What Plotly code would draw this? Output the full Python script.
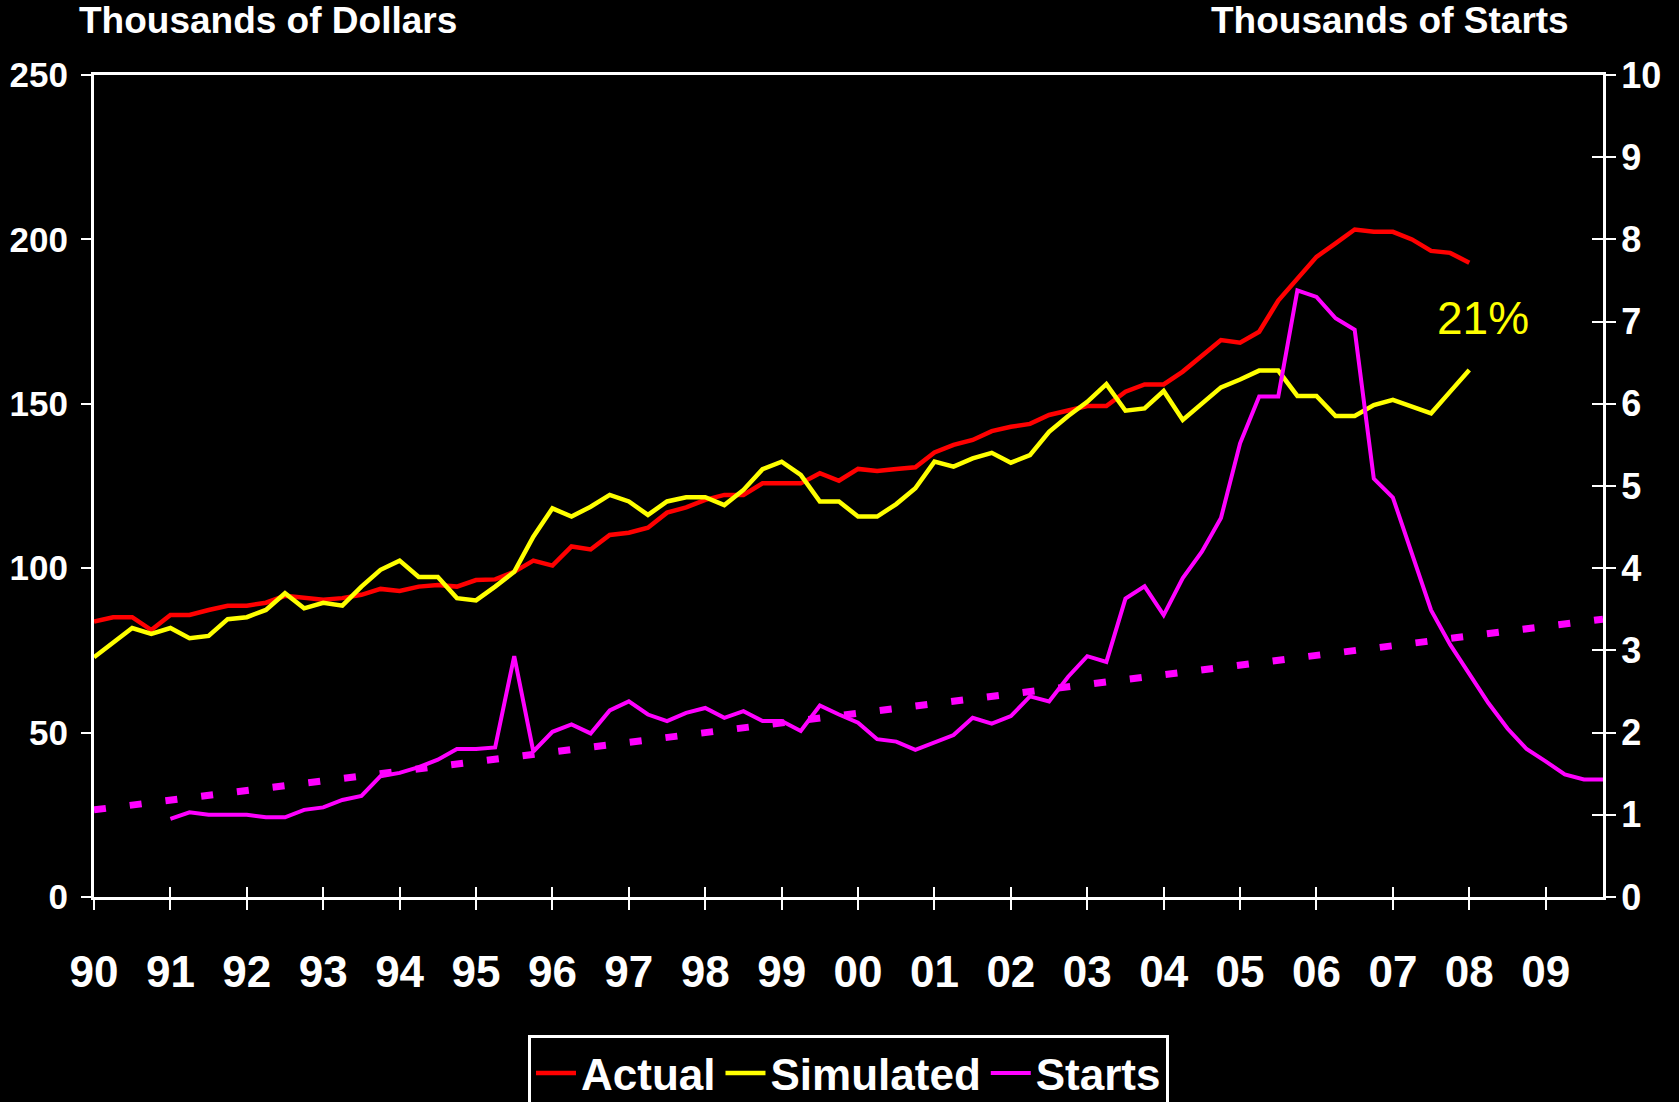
import plotly.graph_objects as go

# ---------------- data ----------------
years = list(range(1990, 2010))
year_labels = ["90", "91", "92", "93", "94", "95", "96", "97", "98", "99",
               "00", "01", "02", "03", "04", "05", "06", "07", "08", "09"]
quarters = [f"{y}Q{q}" for y in years for q in range(1, 5)]

# Thousands of dollars (left axis), 1990Q1 .. 2008Q1
actual = [83.8, 85.1, 85.1, 81.2,
          85.8, 85.8, 87.3, 88.6,
          88.6, 89.5, 91.6, 90.9,
          90.4, 90.9, 91.9, 93.7,
          93.1, 94.4, 94.9, 94.4,
          96.4, 96.6, 98.9, 102.3,
          100.8, 106.6, 105.7, 110.1,
          110.8, 112.3, 116.9, 118.5,
          120.8, 122.3, 122.3, 125.8,
          125.8, 125.8, 128.9, 126.6,
          130.2, 129.6, 130.2, 130.7,
          135.2, 137.5, 139.0, 141.7,
          143.0, 143.9, 146.6, 148.1,
          149.3, 149.3, 153.7, 155.9,
          155.9, 159.8, 164.5, 169.4,
          168.6, 171.9, 181.4, 188.1,
          194.7, 198.8, 203.0, 202.3,
          202.3, 200.0, 196.5, 195.9,
          192.9]

simulated = [72.9, 77.4, 81.8, 80.0,
             81.8, 78.7, 79.4, 84.5,
             85.1, 87.3, 92.4, 87.8,
             89.5, 88.6, 94.4, 99.5,
             102.3, 97.3, 97.3, 90.9,
             90.2, 94.4, 98.9, 109.6,
             118.2, 115.7, 118.7, 122.3,
             120.3, 116.2, 120.3, 121.6,
             121.6, 119.2, 123.8, 130.1,
             132.4, 128.4, 120.3, 120.3,
             115.7, 115.7, 119.5, 124.3,
             132.4, 130.9, 133.4, 135.1,
             132.1, 134.4, 141.5, 146.3,
             150.6, 156.0, 147.9, 148.6,
             153.9, 145.1, 149.9, 155.0,
             157.4, 160.1, 160.1, 152.4,
             152.4, 146.3, 146.3, 149.6,
             151.2, 149.3, 147.1, 153.7,
             160.3]

# Thousands of starts (right axis), 1990Q1 .. 2009Q4
starts = [None, None, None, None,
          0.95, 1.03, 1.00, 1.00,
          1.00, 0.97, 0.97, 1.06,
          1.09, 1.18, 1.23, 1.47,
          1.51, 1.58, 1.67, 1.80,
          1.80, 1.82, 2.93, 1.77,
          2.01, 2.10, 1.99, 2.27,
          2.38, 2.22, 2.14, 2.24,
          2.30, 2.18, 2.26, 2.14,
          2.14, 2.02, 2.33, 2.22,
          2.12, 1.92, 1.89, 1.79,
          1.88, 1.97, 2.18, 2.11,
          2.20, 2.44, 2.38, 2.68,
          2.93, 2.86, 3.63, 3.78,
          3.43, 3.88, 4.20, 4.61,
          5.52, 6.09, 6.09, 7.38,
          7.30, 7.04, 6.90, 5.09,
          4.86, 4.18, 3.49, 3.07,
          2.72, 2.36, 2.05, 1.80,
          1.65, 1.49, 1.43, 1.43]

# linear trend of starts (end points)
trend_q = ["1990Q1", "2009Q4"]
trend_y = [1.06, 3.38]


def qpos(label):
    return int(label[:4]) + (int(label[-1]) - 1) / 4


qx = [qpos(q) for q in quarters]

BOLD = "Liberation Sans Narrow, Arial Narrow, Liberation Sans, Arial, sans-serif"
SANS = "Liberation Sans, Arial, sans-serif"
WHITE = "#FFFFFF"

fig = go.Figure()
fig.add_trace(go.Scatter(x=qx[:len(actual)], y=actual, name="Actual", mode="lines",
                         line=dict(color="#FF0000", width=4.5)))
fig.add_trace(go.Scatter(x=qx[:len(simulated)], y=simulated, name="Simulated", mode="lines",
                         line=dict(color="#FFFF00", width=4.5)))
fig.add_trace(go.Scatter(x=[qpos(q) for q in trend_q], y=trend_y, yaxis="y2", mode="lines",
                         showlegend=False, hoverinfo="skip",
                         line=dict(color="#FF00FF", width=7, dash="12px,24px")))
fig.add_trace(go.Scatter(x=qx, y=starts, name="Starts", yaxis="y2", mode="lines",
                         line=dict(color="#FF00FF", width=4)))
# helper invisible trace so the tick-only overlay axes are drawn
fig.add_trace(go.Scatter(x=[1990], y=[0], xaxis="x2", yaxis="y3", mode="markers",
                         marker=dict(opacity=0), showlegend=False, hoverinfo="skip"))

xr = [1990, 2009.75]
fig.update_layout(
    width=1679, height=1102, autosize=False,
    paper_bgcolor="#000000", plot_bgcolor="#000000",
    margin=dict(l=94, r=76, t=75, b=205),
    showlegend=True,
    legend=dict(orientation="h", x=0.5, xanchor="center",
                yref="container", y=0.061, yanchor="top",
                bgcolor="#000000", bordercolor=WHITE, borderwidth=3,
                font=dict(family=BOLD, size=44, color=WHITE, weight="bold"),
                itemwidth=40, tracegroupgap=0),
    xaxis=dict(range=xr, tickvals=years, ticktext=year_labels, ticks="outside",
               ticklen=10, tickwidth=2, tickcolor=WHITE, showline=True, linecolor=WHITE,
               linewidth=3, mirror=True, showgrid=False, zeroline=False, automargin=False,
               tickfont=dict(family=BOLD, size=44, color=WHITE, weight="bold"),
               ticklabelstandoff=24),
    xaxis2=dict(range=xr, overlaying="x", anchor="y", side="bottom", tickvals=years,
                ticks="inside", ticklen=10, tickwidth=2, tickcolor=WHITE, automargin=False,
                showticklabels=False, showline=False, showgrid=False, zeroline=False),
    yaxis=dict(range=[0, 250], dtick=50, ticks="outside", ticklen=10, tickwidth=2,
               tickcolor=WHITE, showline=True, linecolor=WHITE, linewidth=3,
               showgrid=False, zeroline=False, automargin=False,
               tickfont=dict(family=BOLD, size=35, color=WHITE, weight="bold"),
               ticklabelstandoff=6),
    yaxis2=dict(range=[0, 10], dtick=1, overlaying="y", side="right", anchor="x",
                ticks="outside", ticklen=10, tickwidth=2, tickcolor=WHITE,
                showline=True, linecolor=WHITE, linewidth=3, showgrid=False,
                zeroline=False, automargin=False,
                tickfont=dict(family=BOLD, size=36, color=WHITE, weight="bold"),
                ticklabelstandoff=-2),
    yaxis3=dict(range=[0, 10], dtick=1, overlaying="y", side="right", anchor="x",
                ticks="inside", ticklen=11, tickwidth=2, tickcolor=WHITE, automargin=False,
                showticklabels=False, showline=False, showgrid=False, zeroline=False),
    annotations=[
        dict(text="Thousands of Dollars", xref="paper", yref="paper", x=-0.011, y=1.066,
             xanchor="left", yanchor="middle", showarrow=False,
             font=dict(family=SANS, size=37, color=WHITE, weight="bold")),
        dict(text="Thousands of Starts", xref="paper", yref="paper", x=0.979, y=1.066,
             xanchor="right", yanchor="middle", showarrow=False,
             font=dict(family=SANS, size=37, color=WHITE, weight="bold")),
        dict(text="21%", xref="x", yref="y", x=2008.18, y=176,
             xanchor="center", yanchor="middle", showarrow=False,
             font=dict(family=SANS, size=46, color="#FFFF00")),
    ],
)

fig.write_html("out.html", post_script="document.body.style.margin='0';",
               config={"displayModeBar": False})
